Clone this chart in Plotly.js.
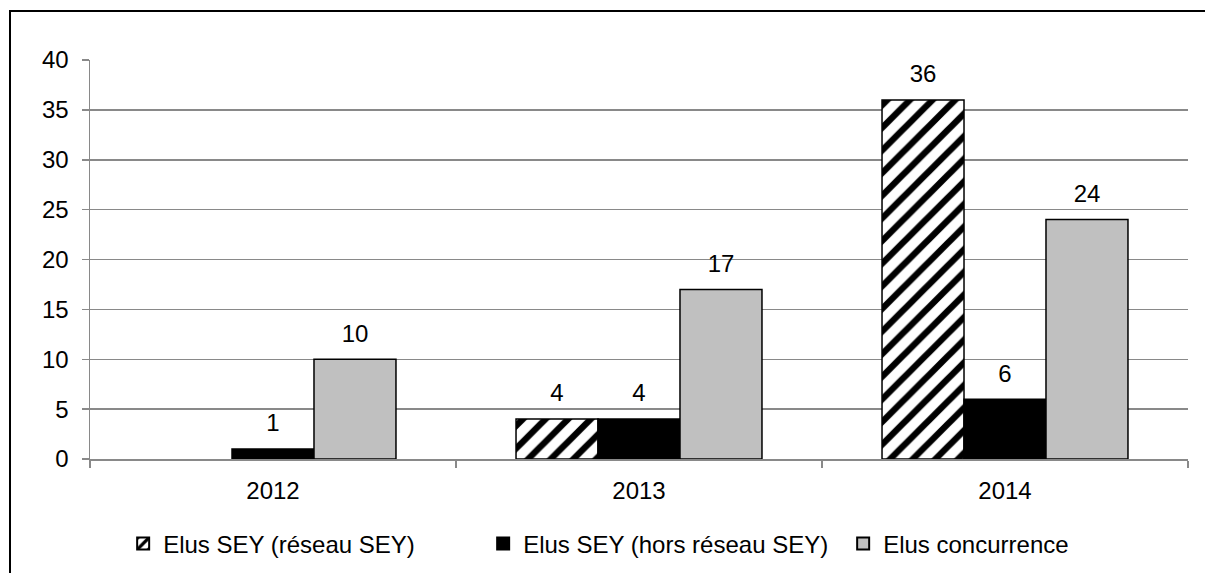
<!DOCTYPE html>
<html>
<head>
<meta charset="utf-8">
<script src="https://cdn.plot.ly/plotly-3.0.1.min.js"></script>
<style>
  html, body { margin: 0; padding: 0; background: #fff; }
  #wrap { position: relative; width: 1205px; height: 573px; overflow: hidden; }
  #frame { position: absolute; left: 9px; top: 10px; width: 1300px; height: 700px;
           border-left: 2px solid #000; border-top: 2px solid #000; pointer-events: none; z-index: 5; }
  #chart { position: absolute; left: 0; top: 0; width: 1205px; height: 573px; }
</style>
</head>
<body>
<div id="wrap">
  <div id="chart"></div>
  <div id="frame"></div>
</div>
<script>
const categories = ['2012', '2013', '2014'];
const seriesNames = ['Elus SEY (réseau SEY)', 'Elus SEY (hors réseau SEY)', 'Elus concurrence'];
const reseauSEY = [null, 4, 36];
const horsReseauSEY = [1, 4, 6];
const concurrence = [10, 17, 24];
const yTicks = [0, 5, 10, 15, 20, 25, 30, 35, 40];

const font = { family: 'Liberation Sans, Arial, sans-serif', size: 24, color: '#000' };
const lbl = arr => arr.map(v => (v === null || v === undefined) ? '' : String(v));

const seriesValues = [reseauSEY, horsReseauSEY, concurrence];
const markers = [
  { color: '#ffffff', line: { color: '#000', width: 1.5 },
    pattern: { shape: '/', fgcolor: '#000', bgcolor: '#fff', size: 16, solidity: 0.4 } },
  { color: '#000000', line: { color: '#000', width: 1.5 } },
  { color: '#c0c0c0', line: { color: '#000', width: 1.5 } }
];

const traces = [];
seriesValues.forEach((vals, i) => {
  traces.push({
    type: 'bar',
    name: seriesNames[i],
    x: categories,
    y: vals,
    offsetgroup: 'g' + i,
    marker: markers[i],
    hoverinfo: 'skip'
  });
});
seriesValues.forEach((vals, i) => {
  traces.push({
    type: 'scatter',
    mode: 'markers+text',
    name: seriesNames[i] + ' labels',
    showlegend: false,
    x: categories,
    y: vals,
    offsetgroup: 'g' + i,
    text: lbl(vals),
    textposition: 'top center',
    textfont: font,
    marker: { size: 17, opacity: 0, color: '#fff' },
    cliponaxis: false,
    hoverinfo: 'skip'
  });
});

const layout = {
  width: 1205,
  height: 573,
  margin: { l: 90, r: 17, t: 60, b: 114, autoexpand: false },
  paper_bgcolor: '#fff',
  plot_bgcolor: '#fff',
  font: font,
  barmode: 'group',
  bargap: 0.328,
  bargroupgap: 0,
  scattermode: 'group',
  scattergap: 0.328,
  showlegend: true,
  legend: {
    orientation: 'h',
    x: 0.522, xanchor: 'center',
    y: -0.213, yanchor: 'middle',
    font: font,
    entrywidth: 315,
    itemsizing: 'constant'
  },
  xaxis: {
    type: 'category',
    showgrid: false,
    showline: true,
    linecolor: '#898989',
    linewidth: 1.5,
    ticks: 'outside',
    tickson: 'boundaries',
    ticklen: 7,
    tickcolor: '#898989',
    tickwidth: 1.5,
    tickfont: font,
    ticklabelstandoff: 10,
    zeroline: false,
    automargin: false,
    fixedrange: true
  },
  yaxis: {
    range: [0, 40],
    tickvals: yTicks,
    ticktext: yTicks.map(String),
    showgrid: true,
    gridcolor: '#898989',
    gridwidth: 1.5,
    showline: true,
    linecolor: '#898989',
    linewidth: 1.5,
    ticks: 'outside',
    ticklen: 7,
    tickcolor: '#898989',
    tickwidth: 1.5,
    tickfont: font,
    ticklabelstandoff: 8,
    zeroline: false,
    automargin: false,
    fixedrange: true
  }
};

Plotly.newPlot('chart', traces, layout, { displayModeBar: false, staticPlot: true });
</script>
</body>
</html>
